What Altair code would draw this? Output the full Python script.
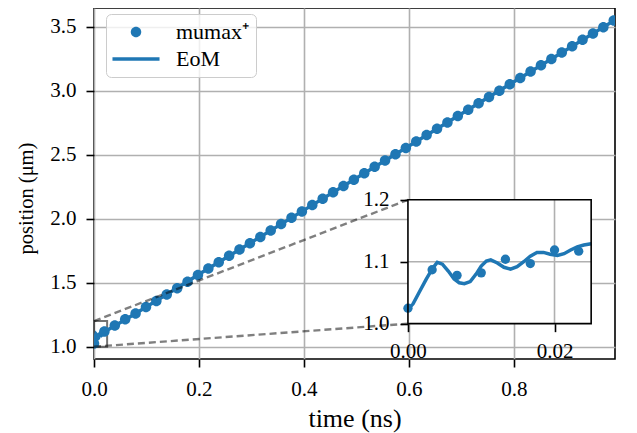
import altair as alt
import pandas as pd

# ---------------- data ----------------
# mumax+ samples shown in the main panel
MUMAX_T = [0.0, 0.0198, 0.0396, 0.0594, 0.0792, 0.0990, 0.1188, 0.1386, 0.1584, 0.1782,
           0.1980, 0.2178, 0.2376, 0.2574, 0.2772, 0.2970, 0.3168, 0.3366, 0.3564, 0.3762,
           0.3960, 0.4158, 0.4356, 0.4554, 0.4752, 0.4950, 0.5148, 0.5346, 0.5544, 0.5742,
           0.5940, 0.6138, 0.6336, 0.6534, 0.6732, 0.6930, 0.7128, 0.7326, 0.7524, 0.7722,
           0.7920, 0.8118, 0.8316, 0.8514, 0.8712, 0.8910, 0.9108, 0.9306, 0.9504, 0.9702,
           0.9900]
MUMAX_X = [1.025, 1.119, 1.166, 1.214, 1.260, 1.310, 1.357, 1.407, 1.456, 1.508,
           1.561, 1.611, 1.660, 1.710, 1.759, 1.809, 1.858, 1.908, 1.958, 2.007,
           2.057, 2.107, 2.156, 2.206, 2.256, 2.305, 2.355, 2.405, 2.454, 2.504,
           2.553, 2.603, 2.653, 2.702, 2.752, 2.802, 2.851, 2.901, 2.950, 3.000,
           3.050, 3.099, 3.149, 3.199, 3.248, 3.298, 3.347, 3.397, 3.447, 3.496,
           3.548]
# mumax+ samples shown in the inset
MUMAX_T_FINE = [0.0, 0.0033, 0.0067, 0.0100, 0.0133, 0.0167, 0.0200, 0.0233]
MUMAX_X_FINE = [1.025, 1.087, 1.078, 1.082, 1.104, 1.097, 1.119, 1.117]
# equation-of-motion curve
EOM_T = [0.0, 0.0007, 0.0015, 0.0025, 0.0034, 0.0040, 0.0047, 0.0055, 0.0063, 0.0070,
         0.0077, 0.0085, 0.0093, 0.0100, 0.0107, 0.0113, 0.0122, 0.0131, 0.0140, 0.0149,
         0.0158, 0.0167, 0.0176, 0.0185, 0.0194, 0.0204, 0.0213, 0.0222, 0.0231, 0.0240,
         0.0250, 0.030, 0.040, 0.060, 0.080, 0.100, 0.150, 0.200, 0.300, 0.400,
         0.500, 0.600, 0.700, 0.800, 0.900, 1.000]
EOM_X = [1.023, 1.032, 1.050, 1.072, 1.090, 1.099, 1.096, 1.085, 1.072, 1.066,
         1.0645, 1.068, 1.080, 1.093, 1.101, 1.103, 1.098, 1.091, 1.088, 1.092,
         1.100, 1.109, 1.115, 1.115, 1.112, 1.110, 1.113, 1.119, 1.124, 1.127,
         1.129, 1.141, 1.163, 1.212, 1.262, 1.312, 1.437, 1.566, 1.816, 2.067,
         2.318, 2.568, 2.819, 3.070, 3.320, 3.571]

SERIES = ["mumax\u207a", "EoM"]
X_TICKS = [0.0, 0.2, 0.4, 0.6, 0.8]
Y_TICKS = [1.0, 1.5, 2.0, 2.5, 3.0, 3.5]
INSET_X_TICKS = [0.0, 0.02]
INSET_Y_TICKS = [1.0, 1.1, 1.2]
X_DOMAIN = [0.0, 0.9924]
Y_DOMAIN = [0.904, 3.646]
INSET_X_DOMAIN = [0.0, 0.025]
INSET_Y_DOMAIN = [1.0, 1.2]
# where the inset frame sits, in main-axis data units
INSET_BOX_T = [0.598, 0.947]
INSET_BOX_X = [1.18, 2.148]

# ---------------- layout / style ----------------
W, H = 521, 351
FONT = "Liberation Serif, Times New Roman, Times, serif"
FS = 21
BLUE = "#1f77b4"
GRID = "#b0b0b0"


def px(t):
    return (t - X_DOMAIN[0]) / (X_DOMAIN[1] - X_DOMAIN[0]) * W


def py(v):
    return (Y_DOMAIN[1] - v) / (Y_DOMAIN[1] - Y_DOMAIN[0]) * H


inset_xrange = [px(INSET_BOX_T[0]), px(INSET_BOX_T[1])]
inset_yrange = [py(INSET_BOX_X[0]), py(INSET_BOX_X[1])]

DOT = "M -0.5 0 A 0.5 0.5 0 1 0 0.5 0 A 0.5 0.5 0 1 0 -0.5 0 Z"
LINE = "M -2.24 -0.167 L 2.24 -0.167 L 2.24 0.167 L -2.24 0.167 Z"

main_df = pd.DataFrame({"t": MUMAX_T, "x": MUMAX_X, "series": SERIES[0]})
fine_df = pd.DataFrame({"t": MUMAX_T_FINE, "x": MUMAX_X_FINE})
eom_df = pd.DataFrame({"t": EOM_T, "x": EOM_X})
eom_inset = eom_df[(eom_df.t >= INSET_X_DOMAIN[0]) & (eom_df.t <= INSET_X_DOMAIN[1])]

xs = alt.Scale(domain=X_DOMAIN, nice=False, zero=False)
ys = alt.Scale(domain=Y_DOMAIN, nice=False, zero=False)
xa = alt.Axis(values=X_TICKS, format=".1f", title="time (ns)", grid=True,
              labelPadding=11, titleY=67, titleBaseline="alphabetic", titleFontSize=26)
ya = alt.Axis(values=Y_TICKS, format=".1f", title="position (\u03bcm)", grid=True,
              labelPadding=10, titleX=-62, titleY=190, titleBaseline="alphabetic",
              titleAngle=270, titleFontSize=20.5)

legend = alt.Legend(title=None, orient="none", legendX=12, legendY=6,
                    labelFont=FONT, labelFontSize=22, labelColor="black",
                    symbolSize=441, symbolStrokeWidth=0,
                    fillColor="rgba(255,255,255,0.8)", strokeColor="#cccccc",
                    padding=7, cornerRadius=5, labelOffset=29, rowPadding=5,
                    symbolOffset=12)

box_df = pd.DataFrame({"t": [INSET_X_DOMAIN[0]], "t2": [INSET_X_DOMAIN[1]],
                       "x": [INSET_Y_DOMAIN[0]], "x2": [INSET_Y_DOMAIN[1]]})
conn_df = pd.DataFrame({"t": [INSET_X_DOMAIN[0]] * 2,
                        "x": [INSET_Y_DOMAIN[1], INSET_Y_DOMAIN[0]],
                        "t2": [INSET_BOX_T[0]] * 2,
                        "x2": [INSET_BOX_X[1], INSET_BOX_X[0]]})

indicator = alt.Chart(box_df).mark_rect(fillOpacity=0, stroke="black", strokeOpacity=0.55,
                                        strokeWidth=2, clip=True).encode(
    x=alt.X("t:Q", scale=xs, axis=xa), x2="t2:Q",
    y=alt.Y("x:Q", scale=ys, axis=ya), y2="x2:Q")

eom_main = alt.Chart(eom_df).mark_line(color=BLUE, strokeWidth=3.5, clip=True).encode(
    x=alt.X("t:Q", scale=xs, axis=xa), y=alt.Y("x:Q", scale=ys, axis=ya), order="t:Q")

pts_main = alt.Chart(main_df).mark_point(filled=True, size=441, opacity=1, clip=True).encode(
    x=alt.X("t:Q", scale=xs, axis=xa), y=alt.Y("x:Q", scale=ys, axis=ya),
    color=alt.Color("series:N", scale=alt.Scale(domain=SERIES, range=[BLUE, BLUE]), legend=legend),
    shape=alt.Shape("series:N", scale=alt.Scale(domain=SERIES, range=[DOT, LINE]), legend=legend))

connectors = alt.Chart(conn_df).mark_rule(color="black", opacity=0.5, strokeWidth=2.4,
                                          strokeDash=[7, 4]).encode(
    x=alt.X("t:Q", scale=xs, axis=xa), x2="t2:Q",
    y=alt.Y("x:Q", scale=ys, axis=ya), y2="x2:Q")

main_layer = alt.layer(indicator, eom_main, pts_main, connectors)

# ---------------- inset ----------------
ixs = alt.Scale(domain=INSET_X_DOMAIN, range=inset_xrange, nice=False, zero=False)
iys = alt.Scale(domain=INSET_Y_DOMAIN, range=inset_yrange, nice=False, zero=False)
ixa = alt.Axis(values=INSET_X_TICKS, format=".2f", title=None, grid=False, orient="bottom",
               offset=-(H - inset_yrange[0]), labelPadding=9)
iya = alt.Axis(values=INSET_Y_TICKS, format=".1f", title=None, grid=False, orient="left",
               offset=-inset_xrange[0], labelPadding=11)

ibg = alt.Chart(box_df).mark_rect(fill="white", strokeWidth=0).encode(
    x=alt.X("t:Q", scale=ixs, axis=ixa), x2="t2:Q",
    y=alt.Y("x:Q", scale=iys, axis=iya), y2="x2:Q")

vgrid_df = pd.DataFrame({"t": [v for v in INSET_X_TICKS if INSET_X_DOMAIN[0] < v < INSET_X_DOMAIN[1]]})
hgrid_df = pd.DataFrame({"x": [v for v in INSET_Y_TICKS if INSET_Y_DOMAIN[0] < v < INSET_Y_DOMAIN[1]]})

ivgrid = alt.Chart(vgrid_df).mark_rule(color=GRID, strokeWidth=1.6).encode(
    x=alt.X("t:Q", scale=ixs, axis=ixa),
    y=alt.datum(INSET_Y_DOMAIN[0], scale=iys, axis=iya), y2=alt.datum(INSET_Y_DOMAIN[1]))
ihgrid = alt.Chart(hgrid_df).mark_rule(color=GRID, strokeWidth=1.6).encode(
    y=alt.Y("x:Q", scale=iys, axis=iya),
    x=alt.datum(INSET_X_DOMAIN[0], scale=ixs, axis=ixa), x2=alt.datum(INSET_X_DOMAIN[1]))

ieom = alt.Chart(eom_inset).mark_line(color=BLUE, strokeWidth=3.5).encode(
    x=alt.X("t:Q", scale=ixs, axis=ixa), y=alt.Y("x:Q", scale=iys, axis=iya), order="t:Q")
ipts = alt.Chart(fine_df).mark_circle(color=BLUE, size=87, opacity=1).encode(
    x=alt.X("t:Q", scale=ixs, axis=ixa), y=alt.Y("x:Q", scale=iys, axis=iya))
iframe = alt.Chart(box_df).mark_rect(fillOpacity=0, stroke="black", strokeWidth=1.6).encode(
    x=alt.X("t:Q", scale=ixs, axis=ixa), x2="t2:Q",
    y=alt.Y("x:Q", scale=iys, axis=iya), y2="x2:Q")

inset_layer = alt.layer(ibg, ivgrid, ihgrid, ieom, ipts, iframe)

chart = alt.layer(main_layer, inset_layer).resolve_scale(
    x="independent", y="independent"
).properties(
    width=W, height=H,
    autosize=alt.AutoSizeParams(type="none"),
    padding={"left": 86, "top": 0, "right": 10, "bottom": 80},
).configure_view(
    stroke="black", strokeWidth=1.6
).configure_axis(
    labelFont=FONT, labelFontSize=FS, labelColor="black", labelFlush=False,
    titleFont=FONT, titleFontSize=FS, titleFontWeight="normal", titleColor="black",
    domain=False, ticks=True, tickColor="black", tickWidth=1.6, tickSize=8,
    gridColor=GRID, gridWidth=1.6, gridOpacity=1,
)

chart.save("out.html", embed_options={"renderer": "svg", "actions": False})
